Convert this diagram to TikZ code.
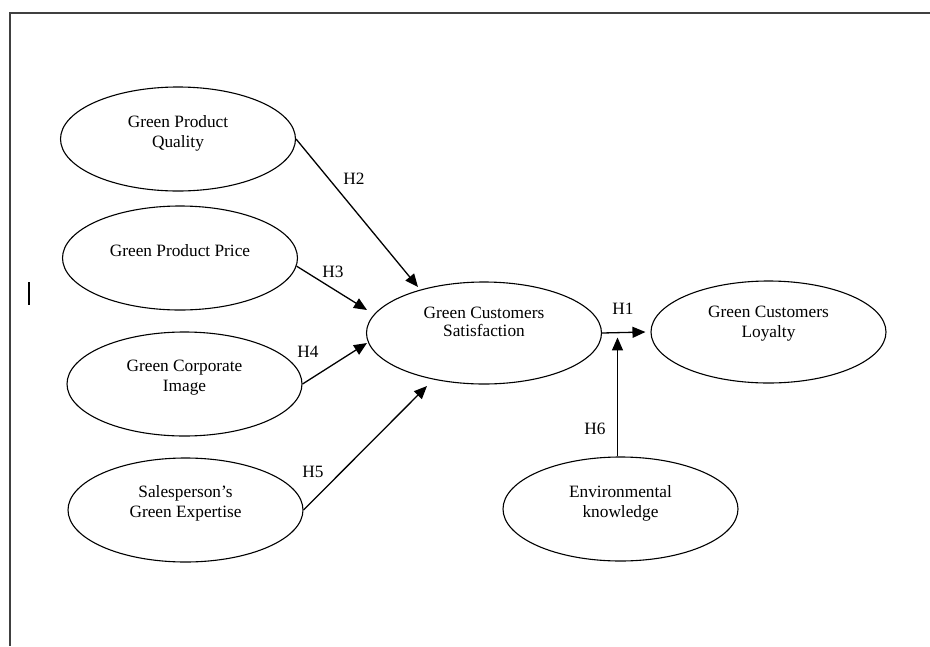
\documentclass[tikz,border=0pt]{standalone}
\usepackage{fontspec}
\setmainfont{Liberation Serif}
\usetikzlibrary{arrows.meta,shapes.geometric,calc}
\begin{document}
\begin{tikzpicture}[x=1pt,y=-1pt,
  oval/.style={draw,ellipse,line width=1.1pt,minimum width=235pt,minimum height=104pt,inner sep=0pt},
  txt/.style={align=center,font=\fontsize{17.3}{20}\selectfont,inner sep=0pt},
  lab/.style={font=\fontsize{17.3}{20}\selectfont,inner sep=0pt},
  arr/.style={line width=1.3pt,-{Triangle[length=13pt,width=11pt]}},
  frame/.style={line width=1.6pt,draw=black!75}]
\useasboundingbox (0,0) rectangle (930,646);
% frame
\coordinate (ftl) at (10,12.7);
\coordinate (ftr) at (930,12.7);
\coordinate (fbl) at (10,646);
\draw[frame] (ftr) -- (ftl) -- (fbl);
\coordinate (m1) at (29,282);
\coordinate (m2) at (29,305);
\draw[line width=1.3pt] (m1) -- (m2);
% ellipses
\node[oval] (qual) at (178,139) {};
\node[oval] (price) at (180,258) {};
\node[oval] (corp) at (184.5,384) {};
\node[oval] (sales) at (185.5,510) {};
\node[oval,minimum height=102pt] (sat) at (484,333) {};
\node[oval,minimum height=102pt] (loyal) at (768.5,332) {};
\node[oval] (env) at (620.5,509) {};
% texts
\node[txt] (qualt) at (178,133) {Green Product\\Quality};
\node[txt] (pricet) at (180,251) {Green Product Price};
\node[txt] (corpt) at (184.5,378) {Green Corporate\\Image};
\node[txt] (salest) at (185.5,503) {Salesperson’s\\Green Expertise};
\node[txt,font=\fontsize{17.3}{18}\selectfont] (satt) at (484,322) {Green Customers\\Satisfaction};
\node[txt] (loyalt) at (768.5,324) {Green Customers\\Loyalty};
\node[txt] (envt) at (620.5,503) {Environmental\\knowledge};
% arrows
\draw[arr] (qual.east) -- ($(sat.center)+(-66,-46)$);
\draw[arr] (price.-4) -- ($(sat.center)+(-117,-23)$);
\draw[arr] (corp.east) -- ($(sat.center)+(-117,10)$);
\draw[arr] (sales.east) -- ($(sat.center)+(-57,53)$);
\draw[arr] (sat.east) -- ($(loyal.west)+(-5,0)$);
\draw[arr] ($(env.north)+(-3,0)$) -- ($(env.north)+(-3,-119)$);
% labels
\node[lab] (h2) at (354,179) {H2};
\node[lab] (h3) at (333,272) {H3};
\node[lab] (h4) at (308,352) {H4};
\node[lab] (h5) at (313,472) {H5};
\node[lab] (h1) at (623,309) {H1};
\node[lab] (h6) at (595,429) {H6};
\end{tikzpicture}
\end{document}
